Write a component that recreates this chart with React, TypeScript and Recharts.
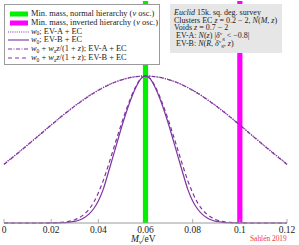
import React from "react";
import { LineChart, Line, XAxis, YAxis, ReferenceArea } from "recharts";

// neutrino mass grid (eV)
const mass = [
  0, 0.002, 0.004, 0.006, 0.008, 0.01, 0.012, 0.014, 0.016, 0.018, 0.02,
  0.022, 0.024, 0.026, 0.028, 0.03, 0.032, 0.034, 0.036, 0.038, 0.04,
  0.042, 0.044, 0.046, 0.048, 0.05, 0.052, 0.054, 0.056, 0.058, 0.06,
  0.062, 0.064, 0.066, 0.068, 0.07, 0.072, 0.074, 0.076, 0.078, 0.08,
  0.082, 0.084, 0.086, 0.088, 0.09, 0.092, 0.094, 0.096, 0.098, 0.1,
  0.102, 0.104, 0.106, 0.108, 0.11, 0.112, 0.114, 0.116, 0.118, 0.12,
];

// w0; EV-A + EC (dotted)
const w0EVA = [
  0.403, 0.428, 0.453, 0.479, 0.505, 0.532, 0.559, 0.586, 0.613, 0.641, 0.668,
  0.694, 0.721, 0.747, 0.772, 0.797, 0.82, 0.843, 0.865, 0.885, 0.904,
  0.921, 0.937, 0.952, 0.964, 0.975, 0.984, 0.991, 0.996, 0.999, 1.0,
  0.999, 0.996, 0.991, 0.984, 0.975, 0.964, 0.952, 0.937, 0.921, 0.904,
  0.885, 0.865, 0.843, 0.82, 0.797, 0.772, 0.747, 0.721, 0.694, 0.668,
  0.641, 0.613, 0.586, 0.559, 0.532, 0.505, 0.479, 0.453, 0.428, 0.403,
];

// w0; EV-B + EC (solid)
const w0EVB = [
  0, 0, 0, 0, 0, 0, 0, 0, 0, 0, 0.0003,
  0.0007, 0.0015, 0.003, 0.006, 0.011, 0.02, 0.036, 0.06, 0.097, 0.15,
  0.225, 0.33, 0.44, 0.55, 0.66, 0.76, 0.85, 0.925, 0.98, 1.0,
  0.98, 0.925, 0.85, 0.76, 0.66, 0.55, 0.44, 0.33, 0.225, 0.15,
  0.097, 0.06, 0.036, 0.02, 0.011, 0.006, 0.003, 0.0015, 0.0007, 0.0003,
  0, 0, 0, 0, 0, 0, 0, 0, 0, 0,
];

// w0 + wa z/(1+z); EV-A + EC (dash-dot)
const w0waEVA = [
  0.398, 0.424, 0.45, 0.476, 0.503, 0.53, 0.557, 0.584, 0.611, 0.639, 0.666,
  0.692, 0.719, 0.745, 0.77, 0.795, 0.818, 0.841, 0.863, 0.883, 0.902,
  0.92, 0.936, 0.951, 0.963, 0.974, 0.983, 0.99, 0.995, 0.999, 1.0,
  0.999, 0.995, 0.99, 0.983, 0.974, 0.963, 0.951, 0.936, 0.92, 0.902,
  0.883, 0.863, 0.841, 0.818, 0.795, 0.77, 0.745, 0.719, 0.692, 0.666,
  0.639, 0.611, 0.584, 0.557, 0.53, 0.503, 0.476, 0.45, 0.424, 0.398,
];

// w0 + wa z/(1+z); EV-B + EC (dashed)
const w0waEVB = [
  0, 0, 0, 0, 0, 0, 0, 0, 0, 0.0005, 0.001,
  0.002, 0.004, 0.007, 0.013, 0.022, 0.037, 0.06, 0.093, 0.14, 0.205,
  0.285, 0.38, 0.482, 0.585, 0.685, 0.778, 0.862, 0.932, 0.982, 1.0,
  0.982, 0.932, 0.862, 0.778, 0.685, 0.585, 0.482, 0.38, 0.285, 0.205,
  0.14, 0.093, 0.06, 0.037, 0.022, 0.013, 0.007, 0.004, 0.002, 0.001,
  0.0005, 0, 0, 0, 0, 0, 0, 0, 0, 0,
];

const xTicks = [0, 0.02, 0.04, 0.06, 0.08, 0.1, 0.12];
const normalBand = [0.0589, 0.0611];
const invertedBand = [0.0989, 0.1011];

const data = mass.map((m, i) => ({
  m,
  a: w0EVA[i],
  b: w0EVB[i],
  c: w0waEVA[i],
  d: w0waEVB[i],
}));

const SERIF = '"Liberation Serif", "DejaVu Serif", serif';
const PURPLE = "#8034a0";
const FRAME = "#9a9a9a";

function BottomTick(props: any) {
  const { x, y, payload } = props;
  return (
    <g>
      <line x1={x} x2={x} y1={y} y2={y - 4} stroke={FRAME} strokeWidth={0.8} />
      <text x={x} y={y + 10} textAnchor="middle" fontSize={9.5} fontFamily={SERIF} fill="#222">
        {String(payload.value)}
      </text>
    </g>
  );
}

function TopTick(props: any) {
  const { x, y } = props;
  return <line x1={x} x2={x} y1={y} y2={y + 3} stroke={FRAME} strokeWidth={0.8} />;
}

// sub/superscript that doesn't disturb the line height
function Lo({ children, size = 5.5, dy = 1.8 }: { children: React.ReactNode; size?: number; dy?: number }) {
  return <span style={{ fontSize: size, position: "relative", top: dy, lineHeight: 0 }}>{children}</span>;
}

function Sample({ dash, swatch }: { dash?: string; swatch?: string }) {
  return (
    <svg width={22} height={8} style={{ position: "absolute", left: 3, top: 0 }}>
      {swatch ? (
        <rect x={2} y={1.5} width={18} height={5} fill={swatch} />
      ) : (
        <line x1={0} x2={21} y1={4} y2={4} stroke={PURPLE} strokeWidth={1.1} strokeDasharray={dash} />
      )}
    </svg>
  );
}

const rowStyle = (top: number): React.CSSProperties => ({
  position: "absolute",
  left: 0,
  top,
  height: 8,
  lineHeight: "8px",
  whiteSpace: "nowrap",
});

export default function App() {
  return (
    <div style={{ position: "absolute", left: 0, top: 0, width: 299, height: 245, background: "#fff" }}>
      <LineChart width={299} height={245} data={data} margin={{ top: 1, right: 12, left: 4, bottom: 0 }}>
        <XAxis
          dataKey="m"
          type="number"
          domain={[0, 0.12]}
          ticks={xTicks}
          height={22}
          tickSize={0}
          tickMargin={0}
          tickLine={false}
          axisLine={{ stroke: FRAME }}
          tick={<BottomTick />}
          interval={0}
        />
        <XAxis
          xAxisId="top"
          orientation="top"
          dataKey="m"
          type="number"
          domain={[0, 0.12]}
          ticks={xTicks}
          height={0}
          tickSize={0}
          tickMargin={0}
          tickLine={false}
          axisLine={{ stroke: FRAME }}
          tick={<TopTick />}
          interval={0}
        />
        <YAxis domain={[0, 1.51]} width={0} tick={false} tickLine={false} axisLine={{ stroke: FRAME }} />
        <YAxis
          yAxisId="right"
          orientation="right"
          domain={[0, 1.51]}
          width={0}
          tick={false}
          tickLine={false}
          axisLine={{ stroke: FRAME }}
        />
        <ReferenceArea x1={normalBand[0]} x2={normalBand[1]} fill="#00f000" fillOpacity={1} stroke="none" />
        <ReferenceArea x1={invertedBand[0]} x2={invertedBand[1]} fill="#ff00ff" fillOpacity={1} stroke="none" />
        <Line dataKey="a" type="monotone" stroke={PURPLE} strokeWidth={1.2} strokeDasharray="1 1.2" dot={false} isAnimationActive={false} />
        <Line dataKey="c" type="monotone" stroke={PURPLE} strokeWidth={1.2} strokeDasharray="4 1.5 1 1.5" dot={false} isAnimationActive={false} />
        <Line dataKey="b" type="monotone" stroke={PURPLE} strokeWidth={1.2} dot={false} isAnimationActive={false} />
        <Line dataKey="d" type="monotone" stroke={PURPLE} strokeWidth={1.2} strokeDasharray="4 3" dot={false} isAnimationActive={false} />
      </LineChart>

      {/* legend box */}
      <div
        style={{
          position: "absolute",
          left: 4,
          top: 4,
          width: 154,
          height: 59,
          border: `1px solid ${FRAME}`,
          background: "#fff",
          fontFamily: SERIF,
          fontSize: 8.4,
          color: "#222",
          overflow: "hidden",
        }}
      >
        <div style={rowStyle(5)}>
          <Sample swatch="#00f000" />
          <span style={{ marginLeft: 26 }}>Min. mass, normal hierarchy (<i>ν</i> osc.)</span>
        </div>
        <div style={rowStyle(13.5)}>
          <Sample swatch="#ff00ff" />
          <span style={{ marginLeft: 26 }}>Min. mass, inverted hierarchy (<i>ν</i> osc.)</span>
        </div>
        <div style={rowStyle(22.5)}>
          <Sample dash="1 1.2" />
          <span style={{ marginLeft: 26 }}><i>w</i><Lo>0</Lo>; EV-A + EC</span>
        </div>
        <div style={rowStyle(31)}>
          <Sample />
          <span style={{ marginLeft: 26 }}><i>w</i><Lo>0</Lo>; EV-B + EC</span>
        </div>
        <div style={rowStyle(40)}>
          <Sample dash="4 1.5 1 1.5" />
          <span style={{ marginLeft: 26 }}>
            <i>w</i><Lo>0</Lo> + <i>w</i><Lo>a</Lo><i>z</i>/(1 + <i>z</i>); EV-A + EC
          </span>
        </div>
        <div style={rowStyle(49)}>
          <Sample dash="4 3" />
          <span style={{ marginLeft: 26 }}>
            <i>w</i><Lo>0</Lo> + <i>w</i><Lo>a</Lo><i>z</i>/(1 + <i>z</i>); EV-B + EC
          </span>
        </div>
      </div>

      {/* survey info box */}
      <div
        style={{
          position: "absolute",
          left: 170,
          top: 4,
          width: 112,
          height: 49,
          background: "#e6e6e6",
          fontFamily: SERIF,
          fontSize: 8,
          color: "#222",
          lineHeight: "7.7px",
          padding: "5px 0 0 4px",
          boxSizing: "border-box",
          whiteSpace: "nowrap",
        }}
      >
        <div><i>Euclid</i> 15k. sq. deg. survey</div>
        <div>Clusters EC <i>z</i> = 0.2 − 2, <i>N</i>(<i>M</i>, <i>z</i>)</div>
        <div>Voids <i>z</i> = 0.7 − 2</div>
        <div style={{ paddingLeft: 2 }}>
          EV-A: <i>N</i>(<i>z</i>) |<i>δ</i><Lo size={5} dy={-3}>v</Lo><Lo size={5} dy={1.5}>g</Lo> &lt; −0.8|
        </div>
        <div style={{ paddingLeft: 2 }}>
          EV-B: <i>N</i>(<i>R</i>, <i>δ</i><Lo size={5} dy={-3}>v</Lo><Lo size={5} dy={1.5}>g</Lo>, <i>z</i>)
        </div>
      </div>

      {/* axis label */}
      <div
        style={{
          position: "absolute",
          left: 131,
          top: 234,
          fontFamily: SERIF,
          fontSize: 9.5,
          color: "#222",
          whiteSpace: "nowrap",
          lineHeight: "10px",
        }}
      >
        <i>M</i><Lo size={6.5} dy={2}><i>ν</i></Lo>/eV
      </div>

      <div
        style={{
          position: "absolute",
          left: 250,
          top: 235,
          fontFamily: SERIF,
          fontSize: 7.4,
          color: "#f03a3a",
          whiteSpace: "nowrap",
          lineHeight: "8px",
        }}
      >
        Sahlén 2019
      </div>
    </div>
  );
}
